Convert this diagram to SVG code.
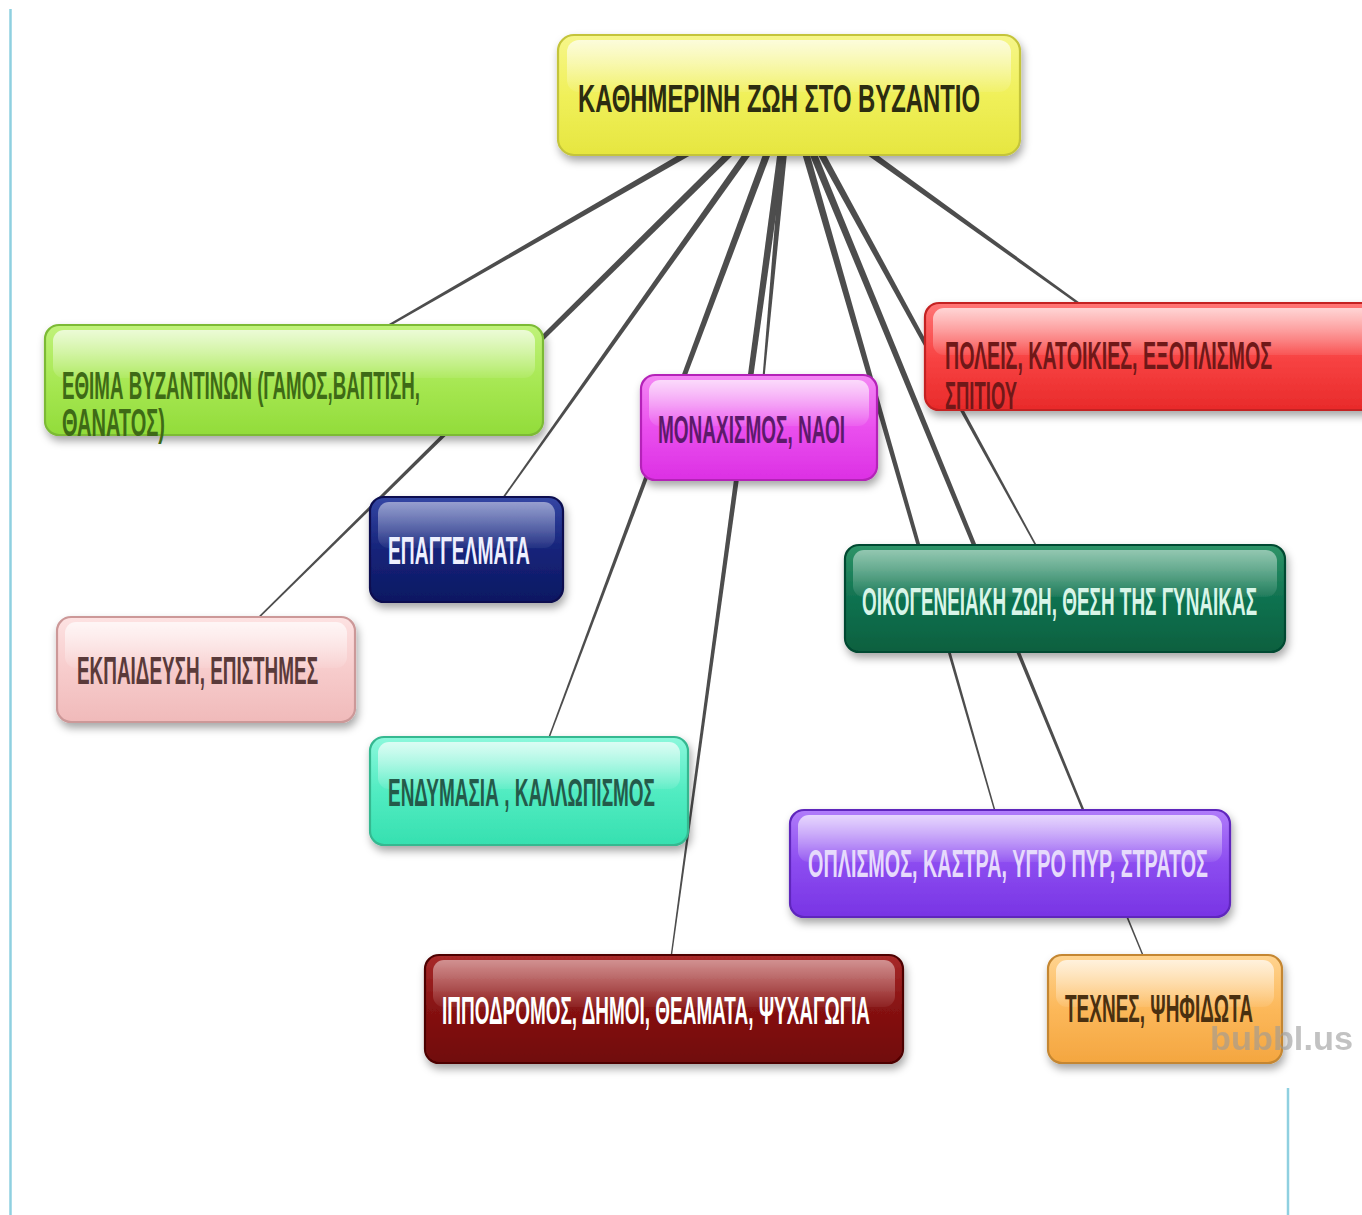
<svg xmlns="http://www.w3.org/2000/svg" width="1362" height="1215" viewBox="0 0 1362 1215">
<defs>
<style>
.t{font-family:"Liberation Sans","DejaVu Sans",sans-serif;font-size:38px;font-weight:bold;}
.box{stroke-width:2.2;}
.gl{fill:url(#gloss);}
.cn{fill:#4d4d4d;}
.frame{stroke:#8fd0e0;stroke-width:2.5;fill:none;}
</style>
<filter id="sh" x="-10%" y="-20%" width="125%" height="160%">
<feDropShadow dx="2" dy="5" stdDeviation="4" flood-color="#000" flood-opacity="0.35"/>
</filter>
<linearGradient id="gloss" x1="0" y1="0" x2="0" y2="1">
<stop offset="0" stop-color="#fff" stop-opacity="0.7"/>
<stop offset="1" stop-color="#fff" stop-opacity="0.08"/>
</linearGradient>
<linearGradient id="gY" x1="0" y1="0" x2="0" y2="1"><stop offset="0" stop-color="#f6f68a"/><stop offset="0.5" stop-color="#f0f05a"/><stop offset="1" stop-color="#e6e640"/></linearGradient>
<linearGradient id="gG" x1="0" y1="0" x2="0" y2="1"><stop offset="0" stop-color="#c0f27a"/><stop offset="0.5" stop-color="#a8e854"/><stop offset="1" stop-color="#92dc3a"/></linearGradient>
<linearGradient id="gM" x1="0" y1="0" x2="0" y2="1"><stop offset="0" stop-color="#f488f4"/><stop offset="0.5" stop-color="#ea50ee"/><stop offset="1" stop-color="#dc30e4"/></linearGradient>
<linearGradient id="gR" x1="0" y1="0" x2="0" y2="1"><stop offset="0" stop-color="#ff7676"/><stop offset="0.5" stop-color="#f84444"/><stop offset="1" stop-color="#e82a2a"/></linearGradient>
<linearGradient id="gN" x1="0" y1="0" x2="0" y2="1"><stop offset="0" stop-color="#3446a4"/><stop offset="0.5" stop-color="#16247a"/><stop offset="1" stop-color="#0c1862"/></linearGradient>
<linearGradient id="gD" x1="0" y1="0" x2="0" y2="1"><stop offset="0" stop-color="#2e9468"/><stop offset="0.5" stop-color="#107250"/><stop offset="1" stop-color="#08603f"/></linearGradient>
<linearGradient id="gP" x1="0" y1="0" x2="0" y2="1"><stop offset="0" stop-color="#fde2e2"/><stop offset="0.5" stop-color="#f7cccc"/><stop offset="1" stop-color="#f0baba"/></linearGradient>
<linearGradient id="gA" x1="0" y1="0" x2="0" y2="1"><stop offset="0" stop-color="#8cf8dc"/><stop offset="0.5" stop-color="#52ecc2"/><stop offset="1" stop-color="#36e0b0"/></linearGradient>
<linearGradient id="gV" x1="0" y1="0" x2="0" y2="1"><stop offset="0" stop-color="#b07cfa"/><stop offset="0.5" stop-color="#8c4cf0"/><stop offset="1" stop-color="#7834e4"/></linearGradient>
<linearGradient id="gK" x1="0" y1="0" x2="0" y2="1"><stop offset="0" stop-color="#a82a2a"/><stop offset="0.5" stop-color="#861212"/><stop offset="1" stop-color="#700808"/></linearGradient>
<linearGradient id="gO" x1="0" y1="0" x2="0" y2="1"><stop offset="0" stop-color="#ffd490"/><stop offset="0.5" stop-color="#fcb85a"/><stop offset="1" stop-color="#f4a640"/></linearGradient>
</defs>
<rect width="1362" height="1215" fill="#ffffff"/>
<line class="frame" x1="10.5" y1="9" x2="10.5" y2="1215"/>
<line class="frame" x1="1288" y1="1088" x2="1288" y2="1215"/>

<g id="connectors">
<path class="cn" d="M787.10,91.71 L293.75,379.57 L294.25,380.43 L790.90,98.29Z"/>
<path class="cn" d="M786.33,92.29 L205.65,669.14 L206.35,669.86 L791.67,97.71Z"/>
<path class="cn" d="M785.90,92.80 L466.09,549.21 L466.91,549.79 L792.10,97.20Z"/>
<path class="cn" d="M785.44,93.67 L528.53,790.83 L529.47,791.17 L792.56,96.33Z"/>
<path class="cn" d="M785.24,94.49 L663.50,1008.93 L664.50,1009.07 L792.76,95.51Z"/>
<path class="cn" d="M785.22,94.66 L758.50,427.46 L759.50,427.55 L792.78,95.34Z"/>
<path class="cn" d="M786.78,98.09 L1152.21,356.91 L1152.79,356.09 L791.22,91.92Z"/>
<path class="cn" d="M785.67,96.83 L1064.56,598.74 L1065.44,598.26 L792.33,93.17Z"/>
<path class="cn" d="M785.35,96.05 L1009.52,863.64 L1010.48,863.36 L792.65,93.95Z"/>
<path class="cn" d="M785.49,96.45 L1164.54,1009.19 L1165.46,1008.81 L792.51,93.55Z"/>
</g>

<g id="node-top">
<rect class="box" x="558" y="35" width="462" height="120" rx="16" fill="url(#gY)" stroke="#c4c43a" filter="url(#sh)"/>
<rect class="gl" x="567" y="40" width="444" height="52" rx="12"/>
<text class="t" x="578" y="112" font-size="45" fill="#2c2c10" textLength="402" lengthAdjust="spacingAndGlyphs">ΚΑΘΗΜΕΡΙΝΗ ΖΩΗ ΣΤΟ ΒΥΖΑΝΤΙΟ</text>
</g>

<g id="node-ethima">
<rect class="box" x="45" y="325" width="498" height="110" rx="14" fill="url(#gG)" stroke="#7cba36" filter="url(#sh)"/>
<rect class="gl" x="53" y="330" width="482" height="48" rx="11"/>
<text class="t" x="62" y="399" fill="#3e6a16" textLength="358" lengthAdjust="spacingAndGlyphs">ΕΘΙΜΑ ΒΥΖΑΝΤΙΝΩΝ (ΓΑΜΟΣ,ΒΑΠΤΙΣΗ,</text>
<text class="t" x="62" y="436" fill="#3e6a16" textLength="103" lengthAdjust="spacingAndGlyphs">ΘΑΝΑΤΟΣ)</text>
</g>

<g id="node-monachismos">
<rect class="box" x="641" y="375" width="236" height="105" rx="14" fill="url(#gM)" stroke="#b424b8" filter="url(#sh)"/>
<rect class="gl" x="649" y="380" width="220" height="46" rx="11"/>
<text class="t" x="658" y="443" font-size="36" fill="#5c1a6a" textLength="187" lengthAdjust="spacingAndGlyphs">ΜΟΝΑΧΙΣΜΟΣ, ΝΑΟΙ</text>
</g>

<g id="node-poleis">
<rect class="box" x="925" y="303" width="460" height="107" rx="14" fill="url(#gR)" stroke="#c42222" filter="url(#sh)"/>
<rect class="gl" x="933" y="308" width="444" height="47" rx="11"/>
<text class="t" x="945" y="369" font-size="37" fill="#701818" textLength="327" lengthAdjust="spacingAndGlyphs">ΠΟΛΕΙΣ, ΚΑΤΟΙΚΙΕΣ, ΕΞΟΠΛΙΣΜΟΣ</text>
<text class="t" x="945" y="409" font-size="37" fill="#701818" textLength="72" lengthAdjust="spacingAndGlyphs">ΣΠΙΤΙΟΥ</text>
</g>

<g id="node-epaggelmata">
<rect class="box" x="370" y="497" width="193" height="105" rx="14" fill="url(#gN)" stroke="#0a1050" filter="url(#sh)"/>
<rect class="gl" x="378" y="502" width="177" height="46" rx="11" opacity="0.7"/>
<text class="t" x="388" y="564" fill="#eef0ff" textLength="142" lengthAdjust="spacingAndGlyphs">ΕΠΑΓΓΕΛΜΑΤΑ</text>
</g>

<g id="node-oikogeneia">
<rect class="box" x="845" y="545" width="440" height="107" rx="14" fill="url(#gD)" stroke="#064a30" filter="url(#sh)"/>
<rect class="gl" x="853" y="550" width="424" height="47" rx="11" opacity="0.7"/>
<text class="t" x="862" y="615" fill="#d8f5e8" textLength="395" lengthAdjust="spacingAndGlyphs">ΟΙΚΟΓΕΝΕΙΑΚΗ ΖΩΗ, ΘΕΣΗ ΤΗΣ ΓΥΝΑΙΚΑΣ</text>
</g>

<g id="node-ekpaideusi">
<rect class="box" x="57" y="617" width="298" height="105" rx="14" fill="url(#gP)" stroke="#cc9898" filter="url(#sh)"/>
<rect class="gl" x="65" y="622" width="282" height="46" rx="11"/>
<text class="t" x="77" y="684" fill="#5a3a3a" textLength="241" lengthAdjust="spacingAndGlyphs">ΕΚΠΑΙΔΕΥΣΗ, ΕΠΙΣΤΗΜΕΣ</text>
</g>

<g id="node-endymasia">
<rect class="box" x="370" y="737" width="318" height="108" rx="14" fill="url(#gA)" stroke="#34b890" filter="url(#sh)"/>
<rect class="gl" x="378" y="742" width="302" height="47" rx="11"/>
<text class="t" x="388" y="806" fill="#245a4a" textLength="267" lengthAdjust="spacingAndGlyphs">ΕΝΔΥΜΑΣΙΑ , ΚΑΛΛΩΠΙΣΜΟΣ</text>
</g>

<g id="node-oplismos">
<rect class="box" x="790" y="810" width="440" height="107" rx="14" fill="url(#gV)" stroke="#5e26bc" filter="url(#sh)"/>
<rect class="gl" x="798" y="815" width="424" height="47" rx="11"/>
<text class="t" x="808" y="877" fill="#e6dafc" textLength="400" lengthAdjust="spacingAndGlyphs">ΟΠΛΙΣΜΟΣ, ΚΑΣΤΡΑ, ΥΓΡΟ ΠΥΡ, ΣΤΡΑΤΟΣ</text>
</g>

<g id="node-ippodromos">
<rect class="box" x="425" y="955" width="478" height="108" rx="14" fill="url(#gK)" stroke="#4e0606" filter="url(#sh)"/>
<rect class="gl" x="433" y="960" width="462" height="47" rx="11" opacity="0.7"/>
<text class="t" x="442" y="1024" fill="#ffffff" textLength="428" lengthAdjust="spacingAndGlyphs">ΙΠΠΟΔΡΟΜΟΣ, ΔΗΜΟΙ, ΘΕΑΜΑΤΑ, ΨΥΧΑΓΩΓΙΑ</text>
</g>

<g id="node-technes">
<rect class="box" x="1048" y="955" width="234" height="108" rx="14" fill="url(#gO)" stroke="#c48630" filter="url(#sh)"/>
<rect class="gl" x="1056" y="960" width="218" height="47" rx="11"/>
<text class="t" x="1065" y="1022" fill="#4a3010" textLength="188" lengthAdjust="spacingAndGlyphs">ΤΕΧΝΕΣ, ΨΗΦΙΔΩΤΑ</text>
</g>

<text x="1210" y="1050" font-family="Liberation Sans, sans-serif" font-size="33" font-weight="bold" fill="#9a9a9a" opacity="0.6" textLength="143" lengthAdjust="spacingAndGlyphs">bubbl.us</text>
</svg>
